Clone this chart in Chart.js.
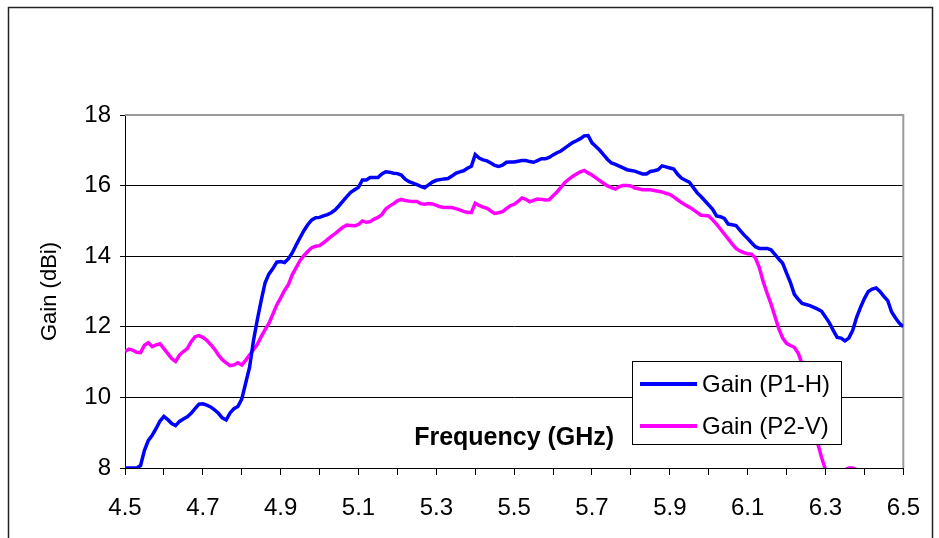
<!DOCTYPE html>
<html>
<head>
<meta charset="utf-8">
<script src="https://cdn.jsdelivr.net/npm/chart.js@4.4.0/dist/chart.umd.min.js"></script>
<style>
  html, body { margin: 0; padding: 0; background: #fff; }
</style>
</head>
<body>
<canvas id="gainChart" width="939" height="538"></canvas>
<script>
// frequency grid (GHz), 4.50 .. 6.50 in 0.01 steps
var freqStart = 4.5;
var freqStep = 0.01;
var freqs = [];
for (var i = 0; i <= 200; i++) freqs.push(+(freqStart + i * freqStep).toFixed(2));

var xTickLabels = ['4.5', '4.7', '4.9', '5.1', '5.3', '5.5', '5.7', '5.9', '6.1', '6.3', '6.5'];
var yTickLabels = ['8', '10', '12', '14', '16', '18'];
var seriesNames = ['Gain (P1-H)', 'Gain (P2-V)'];

var gainP1H = [
  8.0, 8.0, 8.0, 8.0, 8.07, 8.5, 8.78, 8.93, 9.12, 9.33,
  9.46, 9.37, 9.26, 9.2, 9.32, 9.39, 9.45, 9.55, 9.68, 9.81,
  9.82, 9.78, 9.73, 9.65, 9.55, 9.42, 9.36, 9.56, 9.68, 9.74,
  9.95, 10.4, 10.85, 11.6, 12.2, 12.75, 13.25, 13.5, 13.65, 13.83,
  13.85, 13.82, 13.93, 14.1, 14.32, 14.53, 14.73, 14.9, 15.03, 15.09,
  15.1, 15.14, 15.18, 15.23, 15.31, 15.43, 15.56, 15.69, 15.81, 15.88,
  15.95, 16.16, 16.16, 16.23, 16.23, 16.23, 16.33, 16.39, 16.38, 16.35,
  16.34, 16.3, 16.18, 16.11, 16.07, 16.03, 15.98, 15.94, 16.02, 16.1,
  16.15, 16.17, 16.19, 16.2, 16.27, 16.35, 16.39, 16.42, 16.49, 16.55,
  16.88, 16.78, 16.73, 16.7, 16.64, 16.57, 16.54, 16.58, 16.66, 16.67,
  16.67, 16.69, 16.71, 16.71, 16.68, 16.66, 16.71, 16.76, 16.76, 16.8,
  16.87, 16.93, 16.98, 17.06, 17.14, 17.22, 17.27, 17.33, 17.41, 17.42,
  17.21, 17.11, 17.0, 16.87, 16.74, 16.64, 16.6, 16.55, 16.5, 16.45,
  16.43, 16.41, 16.37, 16.33, 16.33, 16.4, 16.42, 16.45, 16.56, 16.53,
  16.5, 16.47, 16.32, 16.21, 16.15, 16.1, 15.95, 15.8, 15.69, 15.57,
  15.45, 15.33, 15.14, 15.12, 15.07, 14.91, 14.89, 14.87, 14.74, 14.61,
  14.5, 14.38, 14.27, 14.22, 14.22, 14.22, 14.18, 14.05, 13.92, 13.8,
  13.52, 13.25, 12.92, 12.78, 12.66, 12.63, 12.6, 12.55, 12.5, 12.44,
  12.28, 12.11, 11.9, 11.7, 11.68, 11.6, 11.68, 11.9, 12.27, 12.55,
  12.8, 13.0, 13.07, 13.1, 13.0, 12.86, 12.74, 12.42, 12.25, 12.1,
  12.0
];

var gainP2V = [
  11.3, 11.37, 11.34, 11.28, 11.27, 11.48, 11.55, 11.44, 11.49, 11.52,
  11.38, 11.24, 11.1, 11.02, 11.2, 11.3, 11.38, 11.58, 11.72, 11.75,
  11.7, 11.62, 11.5, 11.37, 11.2, 11.07, 10.98, 10.9, 10.92, 10.98,
  10.92, 11.05, 11.2, 11.35, 11.5, 11.72, 11.92, 12.1, 12.36, 12.62,
  12.82, 13.03, 13.2, 13.48, 13.68, 13.88, 14.02, 14.14, 14.24, 14.28,
  14.3, 14.38, 14.47, 14.56, 14.64, 14.73, 14.82, 14.88, 14.87, 14.86,
  14.9, 15.0, 14.96, 14.98, 15.05, 15.1, 15.18, 15.34, 15.42, 15.49,
  15.57, 15.61, 15.58, 15.56, 15.55, 15.55, 15.49, 15.47, 15.49, 15.48,
  15.44, 15.4, 15.38, 15.38, 15.38, 15.35, 15.31, 15.27, 15.24, 15.24,
  15.5, 15.44, 15.39, 15.36, 15.28, 15.21, 15.23, 15.26, 15.35, 15.43,
  15.47, 15.55, 15.65, 15.61, 15.54, 15.58, 15.62, 15.61, 15.59, 15.6,
  15.71, 15.82, 15.95, 16.08, 16.18, 16.26, 16.33, 16.39, 16.43, 16.36,
  16.3, 16.22, 16.14, 16.06, 15.99, 15.94, 15.9, 15.97, 16.0, 16.0,
  15.99, 15.93, 15.91, 15.88, 15.88, 15.88, 15.86, 15.84, 15.82, 15.78,
  15.75, 15.68, 15.6, 15.52, 15.45, 15.39, 15.32, 15.24, 15.16, 15.15,
  15.14, 15.03, 14.91, 14.77, 14.63, 14.49, 14.35, 14.22, 14.15, 14.1,
  14.07, 14.06, 13.95, 13.68, 13.28, 12.95, 12.65, 12.3, 11.95, 11.68,
  11.53, 11.47, 11.42, 11.25, 10.95, 10.5, 10.0, 9.4, 8.7, 8.3,
  7.95, 7.7, 7.6, 7.7, 7.85, 7.95, 8.0, 8.0, 7.95, 7.8,
  7.6, null, null, null, null, null, null, null, null, null,
  null
];

var fontFamily = "'Liberation Sans', Arial, sans-serif";

function toPoints(values) {
  return freqs.map(function (f, i) { return { x: f, y: values[i] }; });
}

// outer frame, gray plot border and the boxed legend inside the plot
var decorations = {
  id: 'decorations',
  beforeDraw: function (chart) {
    var c = chart.ctx;
    c.save();
    c.fillStyle = '#fff';
    c.fillRect(0, 0, chart.width, chart.height);
    c.strokeStyle = '#222';
    c.lineWidth = 1.5;
    c.strokeRect(8.5, 7.5, 924, 560);
    c.restore();
  },
  beforeDatasetsDraw: function (chart) {
    var a = chart.chartArea, c = chart.ctx;
    c.save();
    c.strokeStyle = '#999';
    c.lineWidth = 2;
    c.beginPath();
    c.moveTo(a.left, a.top);
    c.lineTo(a.right, a.top);
    c.lineTo(a.right, a.bottom);
    c.stroke();
    c.restore();
  },
  afterDatasetsDraw: function (chart) {
    var c = chart.ctx;
    var bx = 632, by = 361, bw = 209, bh = 83;
    c.save();
    c.fillStyle = '#fff';
    c.fillRect(bx, by, bw, bh);
    c.strokeStyle = '#000';
    c.lineWidth = 1;
    c.strokeRect(bx + 0.5, by + 0.5, bw, bh);
    chart.data.datasets.forEach(function (ds, i) {
      var ly = by + 23 + i * 42;
      c.strokeStyle = ds.borderColor;
      c.lineWidth = 4;
      c.beginPath();
      c.moveTo(bx + 8, ly);
      c.lineTo(bx + 65, ly);
      c.stroke();
      c.fillStyle = '#000';
      c.font = '24px ' + fontFamily;
      c.textBaseline = 'middle';
      c.fillText(ds.label, bx + 70, ly + 1);
    });
    c.restore();
  }
};

new Chart(document.getElementById('gainChart').getContext('2d'), {
  type: 'line',
  data: {
    datasets: [{
      label: seriesNames[0],
      data: toPoints(gainP1H),
      borderColor: '#0000FF',
      borderWidth: 3.5
    }, {
      label: seriesNames[1],
      data: toPoints(gainP2V),
      borderColor: '#FF00FF',
      borderWidth: 3.5
    }]
  },
  options: {
    responsive: false,
    animation: false,
    layout: { padding: { left: 0, top: 115, right: 35, bottom: 0 } },
    elements: { point: { radius: 0 }, line: { tension: 0 } },
    plugins: { legend: { display: false }, tooltip: { enabled: false } },
    scales: {
      x: {
        type: 'linear',
        min: 4.5,
        max: 6.5,
        afterFit: function (s) { s.height = 70; },
        ticks: {
          stepSize: 0.1,
          autoSkip: false,
          maxRotation: 0,
          padding: 19,
          color: '#000',
          font: { family: fontFamily, size: 24 },
          callback: function (v) {
            var i = Math.round((v - 4.5) * 10);
            return i % 2 === 0 ? xTickLabels[i / 2] : '';
          }
        },
        grid: { drawOnChartArea: false, tickLength: 7, tickColor: '#000' },
        border: { color: '#000', width: 1 },
        title: {
          display: true,
          text: 'Frequency (GHz)',
          color: '#000',
          font: { family: fontFamily, size: 25, weight: 'bold' },
          padding: { top: 0, bottom: 85 }
        }
      },
      y: {
        min: 8,
        max: 18,
        afterFit: function (s) { s.width = 125; },
        ticks: {
          stepSize: 2,
          padding: 9,
          color: '#000',
          font: { family: fontFamily, size: 24 },
          callback: function (v) { return yTickLabels[Math.round((v - 8) / 2)]; }
        },
        grid: {
          color: function (ctx) { return ctx.tick && ctx.tick.value === 18 ? '#999' : '#000'; },
          lineWidth: 1,
          tickLength: 5,
          tickColor: '#000'
        },
        border: { color: '#000', width: 1 },
        title: {
          display: true,
          text: 'Gain (dBi)',
          color: '#000',
          font: { family: fontFamily, size: 22 },
          padding: { top: 37, bottom: 0 }
        }
      }
    }
  },
  plugins: [decorations]
});
</script>
</body>
</html>
